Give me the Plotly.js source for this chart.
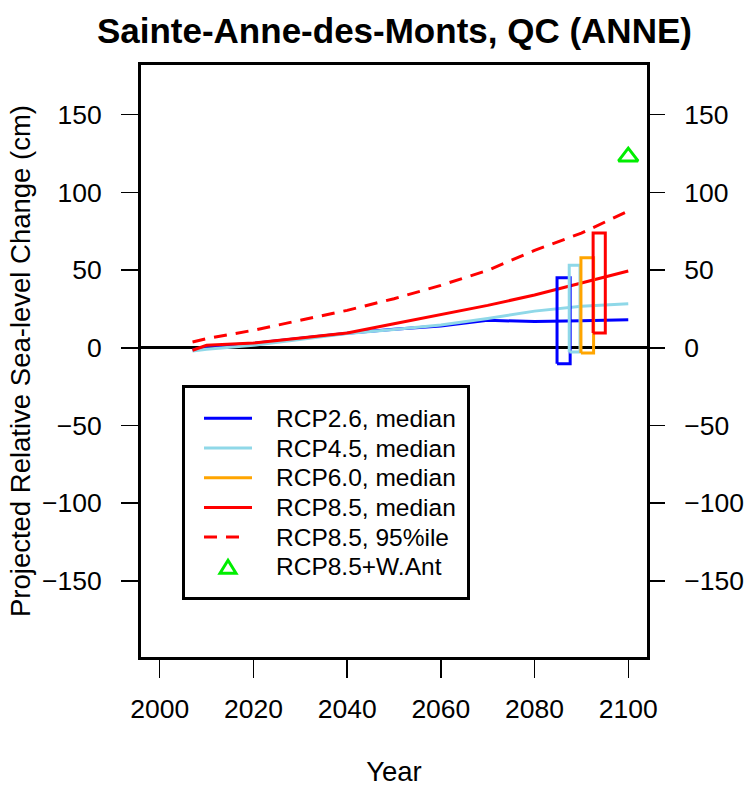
<!DOCTYPE html>
<html><head><meta charset="utf-8">
<script src="https://cdn.plot.ly/plotly-3.0.1.min.js"></script>
<style>html,body{margin:0;padding:0;background:#fff}</style>
</head><body><div id="chart" style="width:747px;height:787px"></div>
<script>
// ---- data ----
const years = [2007, 2010, 2020, 2030, 2040, 2050, 2060, 2070, 2080, 2090, 2100];
const rcp26Median = [-1.6, 1.0, 2.8, 6.0, 9.3, 11.9, 14.0, 17.7, 16.9, 17.4, 18.1];
const rcp45Median = [-2.0, -0.9, 1.6, 5.6, 9.2, 11.8, 14.6, 18.8, 23.6, 26.8, 28.4];
const rcp85Median = [-1.6, 1.6, 3.1, 6.3, 9.5, 15.5, 21.5, 27.3, 34.0, 41.5, 49.4];
const rcp85P95 = [3.7, 5.9, 11.3, 17.7, 24.1, 31.6, 40.2, 49.8, 62.7, 73.8, 88.0];

const boxScenario = ['RCP2.6', 'RCP4.5', 'RCP6.0', 'RCP8.5'];
const boxYearStart = [2084.8, 2087.4, 2089.9, 2092.5];
const boxYearEnd = [2087.6, 2089.7, 2092.6, 2095.1];
const boxLow = [-10.2, -2.7, -3.3, 9.5];
const boxHigh = [45.1, 53.1, 58.0, 73.8];

const wAntYear = [2100];
const wAntValue = [123];

const xTickVals = [2000, 2020, 2040, 2060, 2080, 2100];
const yTickVals = [-150, -100, -50, 0, 50, 100, 150];

const legendLabels = ['RCP2.6, median', 'RCP4.5, median', 'RCP6.0, median', 'RCP8.5, median', 'RCP8.5, 95%ile', 'RCP8.5+W.Ant'];

// ---- styling ----
const FONT = '"Liberation Sans", Arial, Helvetica, sans-serif';
const colors = {'RCP2.6': '#0000ff', 'RCP4.5': '#8fd8e8', 'RCP6.0': '#ffa500', 'RCP8.5': '#ff0000', 'WAnt': '#00ee00'};
const LW = 3;
const DASH = '13px,9px';

function boxTrace(i) {
  return {
    x: [boxYearStart[i], boxYearEnd[i], boxYearEnd[i], boxYearStart[i], boxYearStart[i]],
    y: [boxLow[i], boxLow[i], boxHigh[i], boxHigh[i], boxLow[i]],
    mode: 'lines', type: 'scatter',
    line: {color: colors[boxScenario[i]], width: LW},
    name: boxScenario[i] + ' range', showlegend: false, hoverinfo: 'skip'
  };
}

const traces = [
  {x: years, y: rcp26Median, mode: 'lines', name: legendLabels[0], line: {color: colors['RCP2.6'], width: LW}},
  {x: years, y: rcp45Median, mode: 'lines', name: legendLabels[1], line: {color: colors['RCP4.5'], width: LW}},
  {x: years, y: rcp85Median, mode: 'lines', name: legendLabels[3], line: {color: colors['RCP8.5'], width: LW}},
  {x: years, y: rcp85P95, mode: 'lines', name: legendLabels[4], line: {color: colors['RCP8.5'], width: LW, dash: DASH}},
  boxTrace(0), boxTrace(1), boxTrace(2), boxTrace(3),
  {x: wAntYear, y: wAntValue, mode: 'markers', name: legendLabels[5],
   marker: {symbol: 'triangle-up-open', size: 17, color: colors['WAnt'], line: {width: 3, color: colors['WAnt']}}},
  // companion so the right-hand axis is drawn
  {x: [xTickVals[0]], y: [0], yaxis: 'y2', mode: 'markers', marker: {opacity: 0}, showlegend: false, hoverinfo: 'skip'}
];

// ---- hand-placed legend box (pixel positions converted to paper fractions) ----
const PL = 141, PR = 647, PT = 65, PB = 657;
const xp = px => (px - PL) / (PR - PL);
const yp = py => (PB - py) / (PB - PT);
const legLeft = 183.5, legRight = 468.5, legTop = 386.5, legBottom = 598.5;
const rowY0 = 418.3, rowStep = 29.7, sampleX0 = 204, sampleX1 = 252, textX = 274;
const legendStyle = [
  {kind: 'line', color: colors['RCP2.6']},
  {kind: 'line', color: colors['RCP4.5']},
  {kind: 'line', color: colors['RCP6.0']},
  {kind: 'line', color: colors['RCP8.5']},
  {kind: 'dash', color: colors['RCP8.5']},
  {kind: 'tri', color: colors['WAnt']}
];
const shapes = [{type: 'rect', xref: 'paper', yref: 'paper', x0: xp(legLeft), x1: xp(legRight), y0: yp(legBottom), y1: yp(legTop),
                 line: {color: '#000', width: 3}, fillcolor: '#fff', layer: 'above'}];
const annotations = [];
legendStyle.forEach((s, i) => {
  const cy = rowY0 + i * rowStep;
  if (s.kind === 'line') {
    shapes.push({type: 'line', xref: 'paper', yref: 'paper', x0: xp(sampleX0), x1: xp(sampleX1), y0: yp(cy), y1: yp(cy),
                 line: {color: s.color, width: LW}, layer: 'above'});
  } else if (s.kind === 'dash') {
    shapes.push({type: 'line', xref: 'paper', yref: 'paper', x0: xp(sampleX0), x1: xp(sampleX0 + 35), y0: yp(cy), y1: yp(cy),
                 line: {color: s.color, width: LW, dash: DASH}, layer: 'above'});
  } else {
    const cx = (sampleX0 + sampleX1) / 2, h = 6.5, w = 8;
    shapes.push({type: 'path', xref: 'paper', yref: 'paper',
                 path: `M${xp(cx - w)},${yp(cy + h)} L${xp(cx + w)},${yp(cy + h)} L${xp(cx)},${yp(cy - h)} Z`,
                 line: {color: s.color, width: 3}, fillcolor: 'rgba(0,0,0,0)', layer: 'above'});
  }
  annotations.push({xref: 'paper', yref: 'paper', x: xp(textX), y: yp(cy), xanchor: 'left', yanchor: 'middle',
                    text: legendLabels[i], showarrow: false, font: {family: FONT, size: 24.5, color: '#000'}});
});

const yRange = [-199, 182];
const TICKF = 26.5;
const layout = {
  width: 747, height: 787,
  margin: {l: PL, r: 747 - PR, t: PT, b: 787 - PB},
  paper_bgcolor: '#ffffff', plot_bgcolor: '#ffffff',
  font: {family: FONT, size: TICKF, color: '#000'},
  showlegend: false,
  title: {text: 'Sainte-Anne-des-Monts, QC (ANNE)', font: {family: FONT, size: 35, color: '#000', weight: 'bold'},
          x: 0.528, xanchor: 'center', y: 0.961, yanchor: 'middle', yref: 'container'},
  xaxis: {
    range: [1996, 2104], tickvals: xTickVals, ticktext: xTickVals.map(String),
    ticks: 'outside', ticklen: 18, tickwidth: 1.5, tickcolor: '#000',
    showline: true, linewidth: 3, linecolor: '#000', mirror: true,
    showgrid: false, zeroline: false, ticklabelstandoff: 8,
    tickfont: {size: TICKF},
    title: {text: 'Year', font: {size: 27.5}, standoff: 40}
  },
  yaxis: {
    range: yRange, tickvals: yTickVals,
    ticks: 'outside', ticklen: 17, tickwidth: 1.5, tickcolor: '#000',
    showline: true, linewidth: 3, linecolor: '#000', mirror: true,
    showgrid: false, zeroline: true, zerolinecolor: '#000', zerolinewidth: 3,
    ticklabelstandoff: 14, tickfont: {size: TICKF},
    title: {text: 'Projected Relative Sea-level Change (cm)', font: {size: 27.5}, standoff: 4}
  },
  yaxis2: {
    overlaying: 'y', side: 'right', range: yRange, tickvals: yTickVals,
    ticks: 'outside', ticklen: 17, tickwidth: 1.5, tickcolor: '#000',
    showline: false, showgrid: false, zeroline: false,
    ticklabelstandoff: 14, tickfont: {size: TICKF}
  },
  shapes: shapes,
  annotations: annotations
};

Plotly.newPlot('chart', traces, layout, {staticPlot: true, displayModeBar: false});
</script>
</body></html>
